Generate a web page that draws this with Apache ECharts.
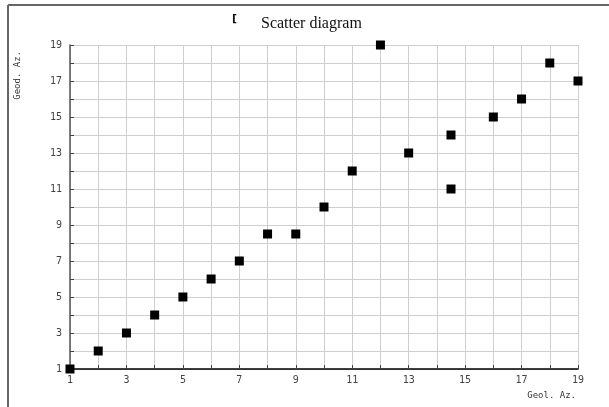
<!DOCTYPE html>
<html><head><meta charset="utf-8">
<script src="https://cdn.jsdelivr.net/npm/echarts@6/dist/echarts.min.js"></script>
<style>html,body{margin:0;padding:0;background:#fff}#c{width:609px;height:407px}</style>
</head><body><div id="c"></div>
<script>
const titleText = "Scatter diagram";
const xName = "Geol. Az.";
const yName = "Geod. Az.";
const geolAz = [1, 2, 3, 4, 5, 6, 7, 8, 9, 10, 11, 12, 13, 14.5, 14.5, 16, 17, 18, 19];
const geodAz = [1, 2, 3, 4, 5, 6, 7, 8.5, 8.5, 10, 12, 19, 13, 14, 11, 15, 16, 18, 17];
const axisMin = 1, axisMax = 19;

const chart = echarts.init(document.getElementById('c'), null, {renderer: 'canvas'});
const mono = 'DejaVu Sans Mono';
const labelFmt = v => ((v - 1) % 2 === 0 ? String(v) : '');
chart.setOption({
  animation: false,
  backgroundColor: '#fff',
  title: [{
    text: titleText, left: 256, top: 11,
    textStyle: {fontFamily: 'Liberation Serif', fontSize: 16, fontWeight: 'normal', color: '#111'}
  }, {
    text: '[', left: 227, top: 9,
    textStyle: {fontFamily: 'DejaVu Sans', fontSize: 11, fontWeight: 'bold', color: '#111'}
  }],
  graphic: [
    {type: 'line', shape: {x1: 8, y1: 5, x2: 609, y2: 5}, style: {stroke: '#666', lineWidth: 2}},
    {type: 'line', shape: {x1: 8, y1: 5, x2: 8, y2: 407}, style: {stroke: '#666', lineWidth: 2}},
    {type: 'text', left: 13, top: 51, rotation: Math.PI / 2,
     style: {text: yName, font: '9px "DejaVu Sans Mono"', fill: '#333'}},
    {type: 'text', right: 33, top: 391,
     style: {text: xName, font: '9px "DejaVu Sans Mono"', fill: '#333'}}
  ],
  grid: {left: 70, right: 31, top: 45, bottom: 38, containLabel: false},
  xAxis: {
    type: 'value', min: axisMin, max: axisMax, interval: 1,
    axisLine: {show: true, onZero: false, lineStyle: {color: '#000', width: 1.5}},
    axisTick: {show: true, inside: true, length: 4, lineStyle: {color: '#444'}},
    axisLabel: {formatter: labelFmt, fontFamily: mono, fontSize: 10, color: '#444', margin: 6},
    splitLine: {show: true, lineStyle: {color: '#cfcfcf', width: 1}}
  },
  yAxis: {
    type: 'value', min: axisMin, max: axisMax, interval: 1,
    axisLine: {show: true, onZero: false, lineStyle: {color: '#555', width: 1.5}},
    axisTick: {show: true, inside: true, length: 4, lineStyle: {color: '#444'}},
    axisLabel: {formatter: labelFmt, fontFamily: mono, fontSize: 10, color: '#444', margin: 8},
    splitLine: {show: true, lineStyle: {color: '#cfcfcf', width: 1}}
  },
  series: [{
    type: 'scatter',
    symbol: 'rect', symbolSize: 9,
    itemStyle: {color: '#000', opacity: 1},
    data: geolAz.map((x, i) => [x, geodAz[i]]),
    z: 5
  }]
});
</script></body></html>
